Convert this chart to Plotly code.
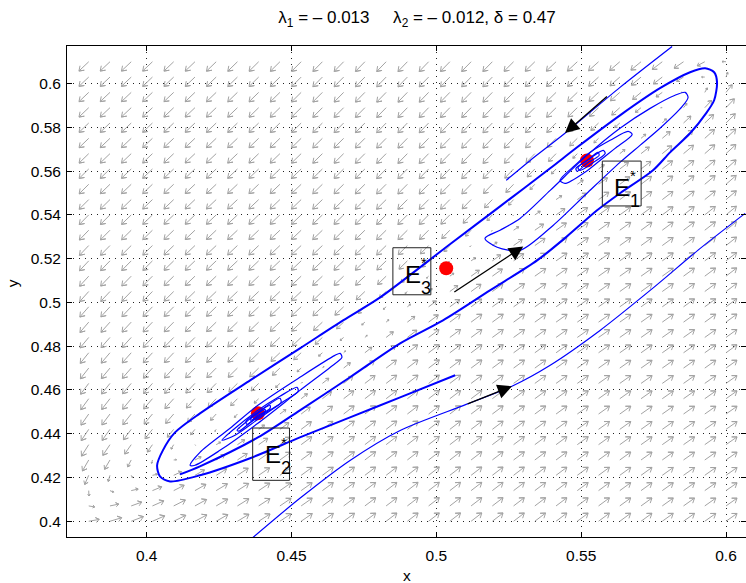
import numpy as np
import plotly.graph_objects as go

# ---------------- figure geometry ----------------
W, H = 746, 583
ML, MR, MT, MB = 67, 0, 46, 46

# ---------------- axes ----------------
X_RANGE = [0.3725, 0.6069]
Y_RANGE = [0.3928, 0.6172]
X_TICKS = [0.4, 0.45, 0.5, 0.55, 0.6]
X_TICK_LABELS = ["0.4", "0.45", "0.5", "0.55", "0.6"]
Y_TICKS = [0.40, 0.42, 0.44, 0.46, 0.48, 0.50, 0.52, 0.54, 0.56, 0.58, 0.60]
Y_TICK_LABELS = ["0.4", "0.42", "0.44", "0.46", "0.48", "0.5", "0.52", "0.54", "0.56", "0.58", "0.6"]

# ---------------- equilibria E1*, E2*, E3* ----------------
EQ_X = [0.5520, 0.4384, 0.5034]
EQ_Y = [0.5649, 0.4493, 0.5156]
EQ_IDX = ["1", "2", "3"]

# label boxes (data units)
BOX_X0 = [0.5573, 0.4366, 0.4850]
BOX_X1 = [0.5707, 0.4493, 0.4981]
BOX_Y0 = [0.5441, 0.4187, 0.5035]
BOX_Y1 = [0.5646, 0.4426, 0.5250]

# ---------------- direction field grid ----------------
QUIVER_X = np.linspace(0.38, 0.60, 31)
QUIVER_Y = np.linspace(0.40, 0.61, 31)
# centre line of the slow band (where the field changes sign)
CENTER_X = [0.3800, 0.4384, 0.5034, 0.5520, 0.6066]
CENTER_Y = [0.4110, 0.4493, 0.5156, 0.5649, 0.6129]

# ---------------- trajectories ----------------
TRAJ_LOW_X = [0.4367, 0.4529, 0.4702, 0.4875, 0.5103, 0.5261, 0.5393, 0.5565, 0.5738, 0.5911, 0.6066]
TRAJ_LOW_Y = [0.3926, 0.4105, 0.4278, 0.4415, 0.4534, 0.4617, 0.4713, 0.4872, 0.5055, 0.5247, 0.5407]
TRAJ_TOP_X = [0.5814, 0.5634, 0.5444, 0.5324, 0.5241]
TRAJ_TOP_Y = [0.6170, 0.5983, 0.5773, 0.5649, 0.5558]

SEP_X = [0.5065, 0.4875, 0.4702, 0.4529, 0.4357, 0.4184, 0.4081, 0.4046, 0.4036, 0.4056, 0.4098,
         0.4184, 0.4357, 0.4529, 0.4678, 0.4806, 0.5047, 0.5220, 0.5393, 0.5486, 0.5634, 0.5772,
         0.5876, 0.5928, 0.5959, 0.5969, 0.5959, 0.5931, 0.5876, 0.5807, 0.5748, 0.5634, 0.5555,
         0.5451, 0.5348, 0.5185, 0.5023, 0.4875, 0.4702, 0.4529, 0.4384, 0.4184, 0.4115]
SEP_Y = [0.4667, 0.4566, 0.4475, 0.4383, 0.4288, 0.4210, 0.4182, 0.4205, 0.4255, 0.4324, 0.4406,
         0.4493, 0.4644, 0.4790, 0.4918, 0.5023, 0.5266, 0.5439, 0.5613, 0.5709, 0.5855, 0.5979,
         0.6052, 0.6070, 0.6052, 0.6006, 0.5924, 0.5864, 0.5773, 0.5686, 0.5604, 0.5499, 0.5421,
         0.5302, 0.5192, 0.5055, 0.4918, 0.4813, 0.4658, 0.4507, 0.4383, 0.4251, 0.4214]

# orbits around E1*
E1_LOOP1_X = [0.5168, 0.5220, 0.5289, 0.5393, 0.5520, 0.5634, 0.5738, 0.5824, 0.5859, 0.5869, 0.5849,
              0.5772, 0.5703, 0.5634, 0.5520, 0.5403, 0.5289, 0.5210, 0.5168]
E1_LOOP1_Y = [0.5293, 0.5330, 0.5384, 0.5512, 0.5672, 0.5796, 0.5887, 0.5947, 0.5960, 0.5937, 0.5896,
              0.5796, 0.5718, 0.5640, 0.5499, 0.5352, 0.5238, 0.5252, 0.5293]
E1_LOOP2_X = [0.5427, 0.5479, 0.5531, 0.5600, 0.5662, 0.5676, 0.5617, 0.5565, 0.5513, 0.5444, 0.5427]
E1_LOOP2_Y = [0.5558, 0.5627, 0.5686, 0.5741, 0.5782, 0.5768, 0.5704, 0.5649, 0.5595, 0.5544, 0.5558]
E1_LOOP3_X = [0.5489, 0.5531, 0.5576, 0.5583, 0.5538, 0.5496, 0.5489]
E1_LOOP3_Y = [0.5617, 0.5659, 0.5695, 0.5681, 0.5636, 0.5604, 0.5617]
E1_LOOP4_X = [0.5482, 0.5520, 0.5558, 0.5562, 0.5520, 0.5486, 0.5482]
E1_LOOP4_Y = [0.5613, 0.5649, 0.5686, 0.5672, 0.5636, 0.5599, 0.5613]

# orbits around E2*
E2_LOOP1_X = [0.4150, 0.4184, 0.4288, 0.4384, 0.4529, 0.4650, 0.4668, 0.4674, 0.4633, 0.4529, 0.4384,
              0.4253, 0.4167, 0.4150]
E2_LOOP1_Y = [0.4256, 0.4315, 0.4425, 0.4530, 0.4658, 0.4758, 0.4767, 0.4749, 0.4703, 0.4598, 0.4448,
              0.4324, 0.4256, 0.4256]
E2_LOOP2_X = [0.4260, 0.4305, 0.4384, 0.4460, 0.4519, 0.4523, 0.4467, 0.4384, 0.4305, 0.4260]
E2_LOOP2_Y = [0.4370, 0.4425, 0.4507, 0.4571, 0.4612, 0.4594, 0.4543, 0.4466, 0.4393, 0.4370]
E2_LOOP3_X = [0.4312, 0.4350, 0.4398, 0.4460, 0.4464, 0.4419, 0.4364, 0.4319, 0.4312]
E2_LOOP3_Y = [0.4416, 0.4461, 0.4511, 0.4562, 0.4543, 0.4503, 0.4457, 0.4412, 0.4416]
E2_LOOP4_X = [0.4343, 0.4384, 0.4426, 0.4426, 0.4384, 0.4346, 0.4343]
E2_LOOP4_Y = [0.4457, 0.4498, 0.4530, 0.4516, 0.4479, 0.4443, 0.4457]
E2_LOOP5_X = [0.4360, 0.4384, 0.4409, 0.4409, 0.4384, 0.4360, 0.4360]
E2_LOOP5_Y = [0.4470, 0.4493, 0.4511, 0.4502, 0.4484, 0.4461, 0.4470]

# direction arrows on trajectories: tail -> head
ARR_TAIL_X = [0.5057, 0.5103, 0.5594]
ARR_TAIL_Y = [0.5043, 0.4534, 0.5947]
ARR_HEAD_X = [0.5300, 0.5261, 0.5444]
ARR_HEAD_Y = [0.5256, 0.4617, 0.5774]

TITLE = ("λ<sub>1</sub> = \u2013 0.013\u00a0\u00a0\u00a0\u00a0 "
         "λ<sub>2</sub> = \u2013 0.012, δ = 0.47")

FONT = "Liberation Sans, Arial, Helvetica, sans-serif"
FS = 15.5

sx = (W - ML - MR) / (X_RANGE[1] - X_RANGE[0])
sy = (H - MT - MB) / (Y_RANGE[1] - Y_RANGE[0])

# ---------------- direction field ----------------
gx, gy = np.meshgrid(QUIVER_X, QUIVER_Y)
a = np.arctan2((EQ_Y[0] - EQ_Y[1]) * sy, (EQ_X[0] - EQ_X[1]) * sx)
Xp = (gx - EQ_X[2]) * sx / 100.0
Yp = (gy - EQ_Y[2]) * sy / 100.0
s = Xp * np.cos(a) + Yp * np.sin(a)
s1 = ((EQ_X[0] - EQ_X[2]) * sx * np.cos(a) + (EQ_Y[0] - EQ_Y[2]) * sy * np.sin(a)) / 100.0
s2 = ((EQ_X[1] - EQ_X[2]) * sx * np.cos(a) + (EQ_Y[1] - EQ_Y[2]) * sy * np.sin(a)) / 100.0
yc = np.interp(gx, CENTER_X, CENTER_Y)
w = (gy - yc) * sy / 100.0 * np.cos(a)
t = np.tanh(w / 0.22)
ang = np.where(t > 0, np.deg2rad(45), np.deg2rad(36))
fx = -t * np.cos(ang)
fy = -t * np.sin(ang)
g = 0.0065 * (s - s2) * s * (s - s1)
fx = fx + g * (-np.sin(a))
fy = fy + g * np.cos(a)
m = np.hypot(fx, fy)
L = 13.5 * np.minimum(m, 1.0)
ux = fx / np.maximum(m, 1e-12)
uy = fy / np.maximum(m, 1e-12)

qx, qy = [], []
HEAD, HANG = 0.4, np.deg2rad(35)
for i in range(gx.shape[0]):
    for j in range(gx.shape[1]):
        x0, y0 = gx[i, j], gy[i, j]
        l = L[i, j]
        if l < 0.5:
            continue
        dx, dy = ux[i, j], uy[i, j]
        tx, ty = x0 + dx * l / sx, y0 + dy * l / sy
        qx += [x0, tx, None]
        qy += [y0, ty, None]
        for sg in (1, -1):
            c, sn = np.cos(sg * HANG), np.sin(sg * HANG)
            bx = -(dx * c - dy * sn) * HEAD * l
            by = -(dx * sn + dy * c) * HEAD * l
            qx.append(tx + bx / sx)
            qy.append(ty + by / sy)
            qx.append(tx)
            qy.append(ty)
        qx.append(None)
        qy.append(None)

fig = go.Figure()
fig.add_trace(go.Scatter(x=qx, y=qy, mode="lines", line=dict(color="#a3a3a3", width=1),
                         hoverinfo="skip", showlegend=False))

fig.add_trace(go.Scatter(x=EQ_X, y=EQ_Y, mode="markers",
                         marker=dict(color="red", size=14, line=dict(width=0)),
                         showlegend=False, hoverinfo="skip"))

curves = [
    (TRAJ_LOW_X, TRAJ_LOW_Y, 1.2), (TRAJ_TOP_X, TRAJ_TOP_Y, 1.2), (SEP_X, SEP_Y, 2.0),
    (E1_LOOP1_X, E1_LOOP1_Y, 1.2), (E1_LOOP2_X, E1_LOOP2_Y, 1.2), (E1_LOOP3_X, E1_LOOP3_Y, 1.2),
    (E1_LOOP4_X, E1_LOOP4_Y, 1.2),
    (E2_LOOP1_X, E2_LOOP1_Y, 1.2), (E2_LOOP2_X, E2_LOOP2_Y, 1.2), (E2_LOOP3_X, E2_LOOP3_Y, 1.2),
    (E2_LOOP4_X, E2_LOOP4_Y, 1.2), (E2_LOOP5_X, E2_LOOP5_Y, 1.2),
]
for cx_, cy_, wd in curves:
    fig.add_trace(go.Scatter(x=cx_, y=cy_, mode="lines",
                             line=dict(color="#0000ff", width=wd, shape="spline", smoothing=0.8),
                             showlegend=False, hoverinfo="skip"))

shapes = []
annotations = []
for k in range(3):
    shapes.append(dict(type="rect", xref="x", yref="y", x0=BOX_X0[k], x1=BOX_X1[k], y0=BOX_Y0[k], y1=BOX_Y1[k],
                       line=dict(color="#222222", width=1), fillcolor="rgba(0,0,0,0)"))
    annotations.append(dict(x=BOX_X0[k], y=BOX_Y1[k], xref="x", yref="y", text="E", showarrow=False,
                            xanchor="left", yanchor="top", xshift=10, yshift=-11,
                            font=dict(family=FONT, size=24, color="black")))
    annotations.append(dict(x=BOX_X0[k], y=BOX_Y1[k], xref="x", yref="y", text="*", showarrow=False,
                            xanchor="left", yanchor="top", xshift=26, yshift=-4,
                            font=dict(family=FONT, size=15, color="black")))
    annotations.append(dict(x=BOX_X0[k], y=BOX_Y1[k], xref="x", yref="y", text=EQ_IDX[k], showarrow=False,
                            xanchor="left", yanchor="top", xshift=26, yshift=-28,
                            font=dict(family=FONT, size=18, color="black")))

for k in range(3):
    annotations.append(dict(x=ARR_HEAD_X[k], y=ARR_HEAD_Y[k], ax=ARR_TAIL_X[k], ay=ARR_TAIL_Y[k],
                            xref="x", yref="y", axref="x", ayref="y", text="", showarrow=True,
                            arrowhead=2, arrowsize=2.2, arrowwidth=1.3, arrowcolor="black"))

annotations.append(dict(x=0.5, y=-0.078, xref="paper", yref="paper", text="x", showarrow=False,
                        font=dict(family=FONT, size=FS, color="black"), yanchor="middle"))
annotations.append(dict(x=-0.081, y=0.517, xref="paper", yref="paper", text="y", showarrow=False,
                        textangle=-90, font=dict(family=FONT, size=FS, color="black"), xanchor="center"))

axis_common = dict(showline=True, linecolor="black", linewidth=1, mirror="ticks", ticks="inside",
                   ticklen=5, tickcolor="black", showgrid=True, gridcolor="#222222", griddash="1px,5px",
                   gridwidth=1, zeroline=False, automargin=False,
                   tickfont=dict(family=FONT, size=FS, color="black"))

fig.update_layout(
    width=W, height=H, margin=dict(l=ML, r=MR, t=MT, b=MB, autoexpand=False),
    paper_bgcolor="white", plot_bgcolor="white",
    title=dict(text=TITLE, x=(417 - ML) / (W - ML - MR), xref="paper", xanchor="center",
               y=1 - 17 / H, yref="container", yanchor="middle",
               font=dict(family=FONT, size=17, color="black")),
    xaxis=dict(range=X_RANGE, tickvals=X_TICKS, ticktext=X_TICK_LABELS, ticklabelstandoff=4, **axis_common),
    yaxis=dict(range=Y_RANGE, tickvals=Y_TICKS, ticktext=Y_TICK_LABELS, ticklabelstandoff=2, **axis_common),
    shapes=shapes, annotations=annotations, showlegend=False,
)

fig.write_html("out.html", config={"displayModeBar": False},
               post_script="document.body.style.margin='0px';")
